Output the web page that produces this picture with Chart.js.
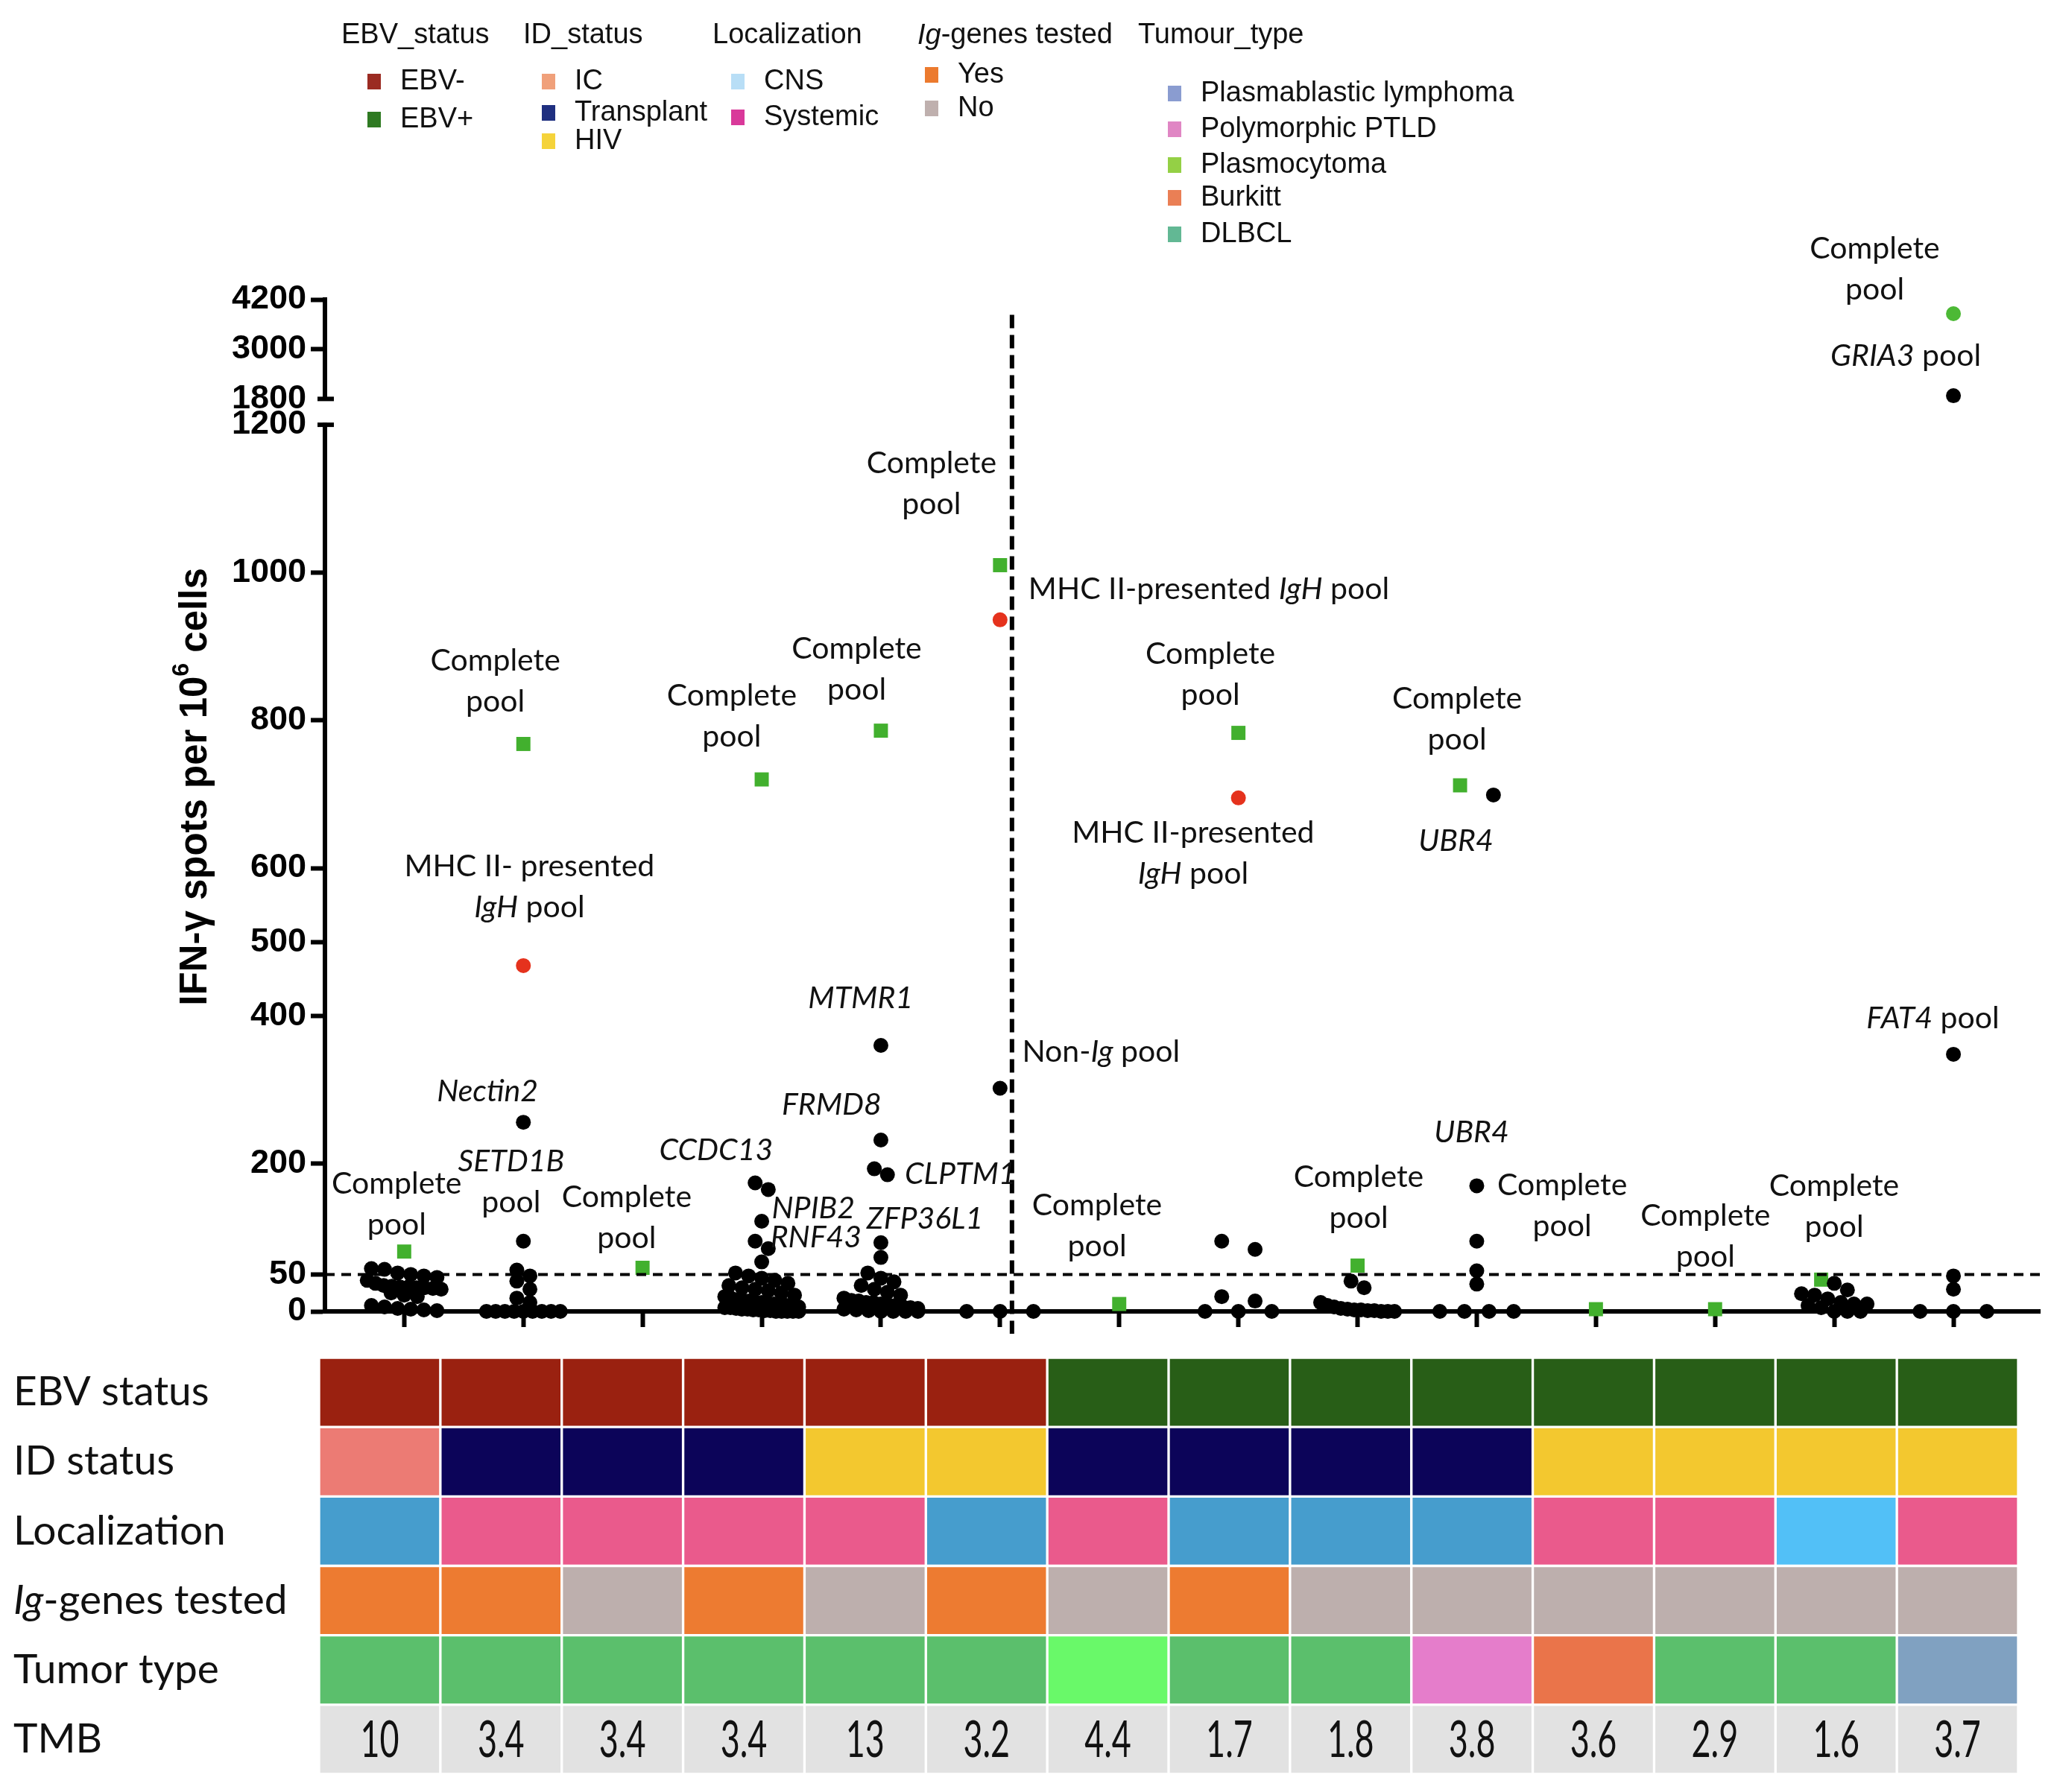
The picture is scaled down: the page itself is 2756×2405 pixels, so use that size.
<!DOCTYPE html>
<html>
<head>
<meta charset="utf-8">
<script src="https://cdn.jsdelivr.net/npm/chart.js@4.4.1/dist/chart.umd.min.js"></script>
<style>
  html, body { margin: 0; padding: 0; background: #ffffff; }
  #wrap { position: relative; width: 2756px; height: 2405px; background: #ffffff; }
  #scatter { position: absolute; left: 0; top: 0; }
  #heat { position: absolute; left: 0; top: 1810px; }
</style>
</head>
<body>
<div id="wrap">
  <canvas id="scatter" width="2756" height="1810"></canvas>
  <canvas id="heat" width="2756" height="595"></canvas>
</div>
<script>
// ---------------- DATA ----------------
const patientIds = ['P1','P2','P3','P4','P5','P6','P7','P8','P9','P10','P11','P12','P13','P14'];
const tmbValues = ['10','3.4','3.4','3.4','13','3.2','4.4','1.7','1.8','3.8','3.6','2.9','1.6','3.7'];
const ebvStatus = ['EBV-','EBV-','EBV-','EBV-','EBV-','EBV-','EBV+','EBV+','EBV+','EBV+','EBV+','EBV+','EBV+','EBV+'];
const idStatus = ['IC','Transplant','Transplant','Transplant','HIV','HIV','Transplant','Transplant','Transplant','Transplant','HIV','HIV','HIV','HIV'];
const localization = ['CNS','Systemic','Systemic','Systemic','Systemic','CNS','Systemic','CNS','CNS','CNS','Systemic','Systemic','Other','Systemic'];
const igGenesTested = ['Yes','Yes','No','Yes','No','Yes','No','Yes','No','No','No','No','No','No'];
const tumourType = ['DLBCL','DLBCL','DLBCL','DLBCL','DLBCL','DLBCL','Plasmocytoma','DLBCL','DLBCL','Polymorphic PTLD','Burkitt','DLBCL','DLBCL','Plasmablastic lymphoma'];

// IFN-γ spots per 10^6 cells, individual pools (black dots), 0–1200 range
const poolResponses = [
  [58,57,52,50,48,46,42,38,35,34,33,33,32,32,31,30,25,22,20,8,6,4,3,2,1],
  [256,95,56,48,41,30,18,12,0,0,0,0,0,0,0,0,0],
  [],
  [174,165,122,95,85,67,52,48,45,42,38,35,32,30,28,25,22,20,18,16,15,14,12,12,10,10,9,8,7,6,5,5,4,3,3,2,2,1,1,0,0,0,0,0],
  [360,232,193,185,93,73,52,45,40,35,30,26,22,18,15,14,12,12,10,9,8,6,5,4,3,2,1,0,0,0,0],
  [302,0,0,0],
  [],
  [95,84,20,14,0,0,0],
  [41,32,12,8,6,4,3,2,2,1,1,0,0,0],
  [699,170,95,55,37,0,0,0,0],
  [],
  [],
  [38,29,24,22,17,12,10,10,8,5,0,0,0],
  [348,48,30,0,0,0]
];
// Complete pool (green squares)
const completePool = [81,768,59,720,786,1010,10,783,62,712,3,3,43,null];
// MHC II-presented IgH pool (red dots)
const mhcIIIgHPool = [null,468,null,null,null,936,null,695,null,null,null,null,null,null];
// high range (1800–4200)
const highComplete = [null,null,null,null,null,null,null,null,null,null,null,null,null,3858];
const highPools = [[],[],[],[],[],[],[],[],[],[],[],[],[],[1877]];

const thresholdValue = 50;
const separatorAt = 5.1;
const yTicksLow = [0,50,200,400,500,600,800,1000,1200];
const yTicksHigh = [1800,3000,4200];

const annotations = [
  {lines:['Complete','pool'], x:-0.063, y:173},
  {lines:['Complete','pool'], x:0.765, y:881},
  {lines:['MHC II- presented','*IgH* pool'], x:1.051, y:602},
  {lines:['*Nectin2*'], x:0.699, y:298},
  {lines:['*SETD1B*','pool'], x:0.897, y:203},
  {lines:['Complete','pool'], x:1.867, y:155},
  {lines:['Complete','pool'], x:2.749, y:833},
  {lines:['*CCDC13*'], x:2.617, y:218},
  {lines:['*NPIB2*'], x:3.433, y:139},
  {lines:['*RNF43*'], x:3.455, y:100},
  {lines:['Complete','pool'], x:3.797, y:897},
  {lines:['*MTMR1*'], x:3.830, y:424},
  {lines:['*FRMD8*'], x:3.587, y:280},
  {lines:['*CLPTM1*'], x:4.668, y:186},
  {lines:['*ZFP36L1*'], x:4.370, y:125},
  {lines:['Complete','pool'], x:4.425, y:1148},
  {lines:['MHC II-presented *IgH* pool'], x:6.752, y:977},
  {lines:['Non-*Ig* pool'], x:5.847, y:351},
  {lines:['Complete','pool'], x:5.814, y:143},
  {lines:['Complete','pool'], x:6.765, y:890},
  {lines:['MHC II-presented','*IgH* pool'], x:6.62, y:648},
  {lines:['Complete','pool'], x:8.009, y:182},
  {lines:['Complete','pool'], x:8.835, y:829},
  {lines:['*UBR4*'], x:8.825, y:637},
  {lines:['*UBR4*'], x:8.957, y:242},
  {lines:['Complete','pool'], x:9.717, y:171},
  {lines:['Complete','pool'], x:10.919, y:129},
  {lines:['Complete','pool'], x:11.999, y:170},
  {lines:['*FAT4* pool'], x:12.827, y:397},
  {lines:['Complete','pool'], x:12.34, y:5419, axis:'y2'},
  {lines:['*GRIA3* pool'], x:12.60, y:2844, axis:'y2'}
];

// ---------------- STYLES ----------------
const heatColors = {
  ebv: {'EBV-':'#9a2110','EBV+':'#285e17'},
  id: {'IC':'#ec7b74','Transplant':'#0c0459','HIV':'#f3c82f'},
  loc: {'CNS':'#469dcd','Systemic':'#ea5a8c','Other':'#52c0f7'},
  ig: {'Yes':'#ed7b31','No':'#bdafad'},
  tumour: {'DLBCL':'#5bbf6c','Plasmocytoma':'#69f969','Polymorphic PTLD':'#e57dcb','Burkitt':'#ea744a','Plasmablastic lymphoma':'#80a1c1'}
};
const X_MIN = -0.665, X_MAX = 13.725;
const LABEL_FONT = 'Lato';
const SANS = '"Liberation Sans", Arial, sans-serif';
const DOT_R = 10;

// ---------------- helpers ----------------
function drawRich(ctx, str, x, y, size, family, color, align) {
  const parts = str.split('*');
  const fonts = parts.map((p, i) => (i % 2 ? 'italic ' : '') + size + 'px ' + family);
  const widths = parts.map((p, i) => { ctx.font = fonts[i]; return ctx.measureText(p).width; });
  const total = widths.reduce((a, b) => a + b, 0);
  let cx = align === 'left' ? x : x - total / 2;
  ctx.textAlign = 'left';
  ctx.textBaseline = 'middle';
  ctx.fillStyle = color;
  parts.forEach((p, i) => { ctx.font = fonts[i]; ctx.fillText(p, cx, y); cx += widths[i]; });
}

// simple row-based dot spreading (GraphPad-like scatter)
const BIN = 15;
function layoutCategory(c) {
  const pts = [];
  poolResponses[c].forEach(v => pts.push({v, kind: 'pool'}));
  if (completePool[c] != null) pts.push({v: completePool[c], kind: 'complete'});
  if (mhcIIIgHPool[c] != null) pts.push({v: mhcIIIgHPool[c], kind: 'mhc'});
  pts.sort((a, b) => b.v - a.v);
  const dense = pts.length > 10;
  let i = 0;
  while (i < pts.length) {
    let j = i;
    while (j < pts.length && pts[i].v - pts[j].v < BIN) j++;
    const n = j - i;
    const sp = n > 1 ? Math.min(dense ? 0.11 : 0.28, 0.62 / (n - 1)) : 0;
    for (let k = 0; k < n; k++) pts[i + k].x = c + (k - (n - 1) / 2) * sp;
    i = j;
  }
  return pts;
}

const blackPts = [], greenPts = [], redPts = [], hiBlack = [], hiGreen = [];
patientIds.forEach((_, c) => {
  layoutCategory(c).forEach(p => {
    const target = p.kind === 'pool' ? blackPts : (p.kind === 'complete' ? greenPts : redPts);
    target.push({x: p.x, y: p.v});
  });
  highPools[c].forEach(v => hiBlack.push({x: c, y: v}));
  if (highComplete[c] != null) hiGreen.push({x: c, y: highComplete[c]});
});

// ---------------- scatter chart plugin ----------------
const scatterDecor = {
  id: 'scatterDecor',
  afterDatasetsDraw(chart) {
    const ctx = chart.ctx;
    const xs = chart.scales.x, yl = chart.scales.y, yh = chart.scales.y2;
    ctx.save();
    ctx.strokeStyle = '#000';
    ctx.lineWidth = 6;
    ctx.setLineDash([18, 9]);
    const sx = xs.getPixelForValue(separatorAt);
    ctx.beginPath();
    ctx.moveTo(sx, yh.getPixelForValue(3830));
    ctx.lineTo(sx, chart.chartArea.bottom + 30);
    ctx.stroke();
    ctx.restore();
    ctx.save();
    ctx.strokeStyle = '#000';
    ctx.lineWidth = 6;
    const ax = chart.chartArea.left;
    [yl.getPixelForValue(yTicksLow[yTicksLow.length - 1]), yh.getPixelForValue(yTicksHigh[0])].forEach(py => {
      ctx.beginPath();
      ctx.moveTo(ax - 10, py);
      ctx.lineTo(ax + 12, py);
      ctx.stroke();
    });
    ctx.restore();
  },
  afterDraw(chart) {
    const ctx = chart.ctx;
    const xs = chart.scales.x;
    ctx.save();
    annotations.forEach(a => {
      const ys = chart.scales[a.axis || 'y'];
      const px = xs.getPixelForValue(a.x);
      const py = ys.getPixelForValue(a.y);
      a.lines.forEach((ln, i) => drawRich(ctx, ln, px, py + i * 55, 41, LABEL_FONT, '#111', 'center'));
    });
    ctx.save();
    ctx.translate(259, 1056);
    ctx.rotate(-Math.PI / 2);
    const mainF = 'bold 51px ' + SANS, supF = 'bold 32px ' + SANS;
    const p1 = 'IFN-\u03b3 spots per 10', p2 = '6', p3 = ' cells';
    ctx.font = mainF; const w1 = ctx.measureText(p1).width, w3 = ctx.measureText(p3).width;
    ctx.font = supF; const w2 = ctx.measureText(p2).width;
    let tx = -(w1 + w2 + w3) / 2;
    ctx.fillStyle = '#000';
    ctx.textBaseline = 'alphabetic';
    ctx.textAlign = 'left';
    ctx.font = mainF; ctx.fillText(p1, tx, 18); tx += w1;
    ctx.font = supF; ctx.fillText(p2, tx, -6); tx += w2;
    ctx.font = mainF; ctx.fillText(p3, tx, 18);
    ctx.restore();
    const lf = 38;
    const headers = [['EBV_status', 458], ['ID_status', 702], ['Localization', 956], ['*Ig*-genes tested', 1231], ['Tumour_type', 1527]];
    headers.forEach(h => drawRich(ctx, h[0], h[1], 48, lf, SANS, '#111', 'left'));
    const items = [
      ['EBV-', '#9b2b22', 502, 109], ['EBV+', '#2f7a22', 502, 160],
      ['IC', '#f0a07a', 736, 109], ['Transplant', '#1f2f80', 736, 151], ['HIV', '#f5d33a', 736, 189],
      ['CNS', '#b8def6', 990, 109], ['Systemic', '#d9399a', 990, 157],
      ['Yes', '#ec7a2e', 1250, 100], ['No', '#bfb0ae', 1250, 145],
      ['Plasmablastic lymphoma', '#8a9cd0', 1576, 125], ['Polymorphic PTLD', '#e086c4', 1576, 173],
      ['Plasmocytoma', '#94d045', 1576, 221], ['Burkitt', '#ea7f55', 1576, 265], ['DLBCL', '#62b894', 1576, 314]
    ];
    items.forEach(it => {
      ctx.fillStyle = it[1];
      ctx.fillRect(it[2] - 9, it[3] - 10, 18, 21);
      drawRich(ctx, it[0], it[2] + 35, it[3] + 1, lf, SANS, '#111', 'left');
    });
    ctx.restore();
  }
};

const tickFont = {family: SANS, size: 45, weight: 'bold'};
const pointBase = {borderWidth: 0, pointBorderWidth: 0, clip: false, pointHoverRadius: DOT_R};

new Chart(document.getElementById('scatter'), {
  type: 'scatter',
  data: {
    datasets: [
      {type: 'line', data: [{x: X_MIN, y: thresholdValue}, {x: X_MAX, y: thresholdValue}], yAxisID: 'y',
       borderColor: '#000', borderWidth: 4, borderDash: [13, 9], pointRadius: 0, showLine: true, clip: false, fill: false},
      Object.assign({data: blackPts, yAxisID: 'y', pointRadius: DOT_R, pointBackgroundColor: '#000', backgroundColor: '#000'}, pointBase),
      Object.assign({data: redPts, yAxisID: 'y', pointRadius: DOT_R, pointBackgroundColor: '#e5321d', backgroundColor: '#e5321d'}, pointBase),
      Object.assign({data: greenPts, yAxisID: 'y', pointStyle: 'rect', pointRadius: 13.4, pointBackgroundColor: '#42b02e', backgroundColor: '#42b02e'}, pointBase),
      Object.assign({data: hiBlack, yAxisID: 'y2', pointRadius: DOT_R, pointBackgroundColor: '#000', backgroundColor: '#000'}, pointBase),
      Object.assign({data: hiGreen, yAxisID: 'y2', pointRadius: DOT_R, pointBackgroundColor: '#4cb935', backgroundColor: '#4cb935'}, pointBase)
    ]
  },
  options: {
    responsive: false,
    animation: false,
    devicePixelRatio: 1,
    events: [],
    layout: {padding: {left: 0, right: 19, top: 402, bottom: 29}},
    plugins: {legend: {display: false}, tooltip: {enabled: false}},
    scales: {
      x: {
        type: 'linear', position: 'bottom', min: X_MIN, max: X_MAX,
        afterBuildTicks: s => { s.ticks = patientIds.map((_, i) => ({value: i})); },
        ticks: {display: false},
        grid: {drawOnChartArea: false, tickLength: 21, tickWidth: 6, tickColor: '#000'},
        border: {display: true, width: 6, color: '#000'},
        afterFit: s => { s.height = 21; }
      },
      y: {
        type: 'linear', position: 'left', stack: 'ystack', stackWeight: 1189.3, weight: 0,
        min: 0, max: 1200,
        afterBuildTicks: s => { s.ticks = yTicksLow.map(v => ({value: v})); },
        ticks: {autoSkip: false, padding: 6, color: '#000', font: tickFont, callback: v => String(v)},
        grid: {drawOnChartArea: false, tickLength: 19, tickWidth: 6,
               tickColor: c => (c.tick && c.tick.value === 1200) ? 'rgba(0,0,0,0)' : '#000'},
        border: {display: true, width: 6, color: '#000'},
        afterFit: s => { s.width = 436; }
      },
      ygap: {
        type: 'linear', position: 'left', stack: 'ystack', stackWeight: 34.7, weight: 1,
        min: 0, max: 1,
        ticks: {display: false}, grid: {display: false}, border: {display: false},
        afterFit: s => { s.width = 436; }
      },
      y2: {
        type: 'linear', position: 'left', stack: 'ystack', stackWeight: 133.3, weight: 2,
        min: 1800, max: 4200,
        afterBuildTicks: s => { s.ticks = yTicksHigh.map(v => ({value: v})); },
        ticks: {autoSkip: false, padding: 6, color: '#000', font: tickFont, callback: v => String(v)},
        grid: {drawOnChartArea: false, tickLength: 19, tickWidth: 6,
               tickColor: c => (c.tick && c.tick.value === 1800) ? 'rgba(0,0,0,0)' : '#000'},
        border: {display: true, width: 6, color: '#000'},
        afterFit: s => { s.width = 436; }
      }
    }
  },
  plugins: [scatterDecor]
});

// ---------------- heatmap chart ----------------
const heatRows = [
  {label: 'EBV status', values: ebvStatus, colors: heatColors.ebv},
  {label: 'ID status', values: idStatus, colors: heatColors.id},
  {label: 'Localization', values: localization, colors: heatColors.loc},
  {label: '*Ig*-genes tested', values: igGenesTested, colors: heatColors.ig},
  {label: 'Tumor type', values: tumourType, colors: heatColors.tumour},
  {label: 'TMB', values: tmbValues, colors: null}
];

const heatDecor = {
  id: 'heatDecor',
  afterDraw(chart) {
    const ctx = chart.ctx;
    const ys = chart.scales.y;
    ctx.save();
    heatRows.forEach((r, ri) => {
      const cy = ys.getPixelForValue(ri + 0.5);
      drawRich(ctx, r.label, 18, cy, 55, LABEL_FONT, '#111', 'left');
    });
    const tmbRow = heatRows.length - 1;
    const meta = chart.getDatasetMeta(tmbRow);
    const cy = ys.getPixelForValue(tmbRow + 0.5);
    ctx.fillStyle = '#111';
    ctx.font = '68px ' + LABEL_FONT;
    ctx.textAlign = 'center';
    ctx.textBaseline = 'middle';
    meta.data.forEach((bar, i) => {
      ctx.save();
      ctx.translate(bar.x, cy + 2);
      ctx.scale(0.66, 1);
      ctx.fillText(tmbValues[i], 0, 0);
      ctx.restore();
    });
    ctx.restore();
  }
};

new Chart(document.getElementById('heat'), {
  type: 'bar',
  data: {
    labels: patientIds,
    datasets: heatRows.map((r, ri) => ({
      label: r.label,
      data: r.values.map(() => [ri, ri + 1]),
      backgroundColor: r.values.map(v => r.colors ? r.colors[v] : '#e2e2e2'),
      borderColor: '#ffffff',
      borderWidth: 2,
      borderSkipped: false,
      barPercentage: 1,
      categoryPercentage: 1,
      grouped: false
    }))
  },
  options: {
    responsive: false,
    animation: false,
    devicePixelRatio: 1,
    events: [],
    layout: {padding: {left: 428, right: 48, top: 12, bottom: 24}},
    plugins: {legend: {display: false}, tooltip: {enabled: false}},
    scales: {
      x: {display: false},
      y: {display: false, min: 0, max: 6, reverse: true}
    }
  },
  plugins: [heatDecor]
});
</script>
</body>
</html>
